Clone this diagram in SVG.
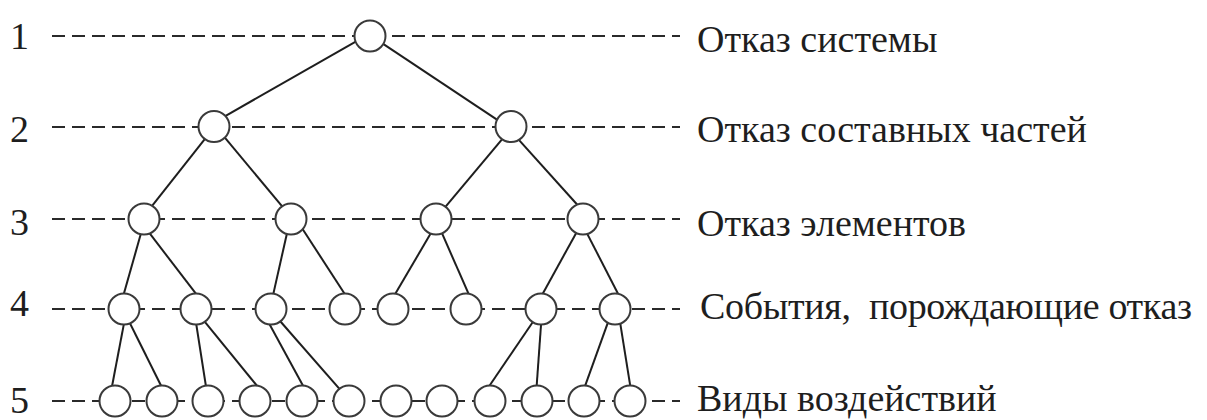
<svg xmlns="http://www.w3.org/2000/svg" width="1207" height="420" viewBox="0 0 1207 420">
<style>
.lvl{stroke:#2a2a2a;stroke-width:2;stroke-dasharray:13 7;fill:none}
.edge{stroke:#1e1e1e;stroke-width:2;fill:none}
.node{fill:#fff;stroke:#3a3a3a;stroke-width:2}
.num,.lab{font-family:"Liberation Serif","Times New Roman",serif;font-size:38px;fill:#1e1e1e}
</style>
<rect width="1207" height="420" fill="#fff"/>
<g id="levels">
<line class="lvl" x1="52" y1="36" x2="680" y2="36"/>
<line class="lvl" x1="52" y1="127" x2="680" y2="127"/>
<line class="lvl" x1="52" y1="219" x2="680" y2="219"/>
<line class="lvl" x1="52" y1="309" x2="680" y2="309"/>
<line class="lvl" x1="52" y1="401" x2="680" y2="401"/>
</g>
<g id="level-numbers">
<text class="num" x="10" y="49">1</text>
<text class="num" x="10" y="142">2</text>
<text class="num" x="10" y="235">3</text>
<text class="num" x="10" y="316">4</text>
<text class="num" x="10" y="413">5</text>
</g>
<g id="level-labels">
<text class="lab" x="697" y="52">Отказ системы</text>
<text class="lab" x="697" y="142">Отказ составных частей</text>
<text class="lab" x="697" y="236">Отказ элементов</text>
<text class="lab" x="700" y="319" xml:space="preserve" textLength="492" lengthAdjust="spacing">События,  порождающие отказ</text>
<text class="lab" x="697" y="411">Виды воздействий</text>
</g>
<g id="connectors">
<line class="edge" x1="358.8" y1="39.8" x2="223.9" y2="116.8"/>
<line class="edge" x1="379" y1="41.1" x2="502.2" y2="123.2"/>
<line class="edge" x1="209.7" y1="132.8" x2="149.7" y2="208.8"/>
<line class="edge" x1="220.9" y1="132.9" x2="285.5" y2="210.4"/>
<line class="edge" x1="504.5" y1="136.3" x2="443.3" y2="209.4"/>
<line class="edge" x1="517.3" y1="138.1" x2="580.7" y2="208.5"/>
<line class="edge" x1="142.9" y1="226.6" x2="121.8" y2="301"/>
<line class="edge" x1="145.3" y1="227.7" x2="200.7" y2="299.9"/>
<line class="edge" x1="288.5" y1="226.5" x2="271.7" y2="301.1"/>
<line class="edge" x1="299.8" y1="224.8" x2="348.8" y2="300.2"/>
<line class="edge" x1="434.3" y1="227.3" x2="391.5" y2="300.3"/>
<line class="edge" x1="439.2" y1="226.9" x2="471.6" y2="300.7"/>
<line class="edge" x1="579.4" y1="227.2" x2="539" y2="300.4"/>
<line class="edge" x1="583.8" y1="227.1" x2="621.5" y2="300.5"/>
<line class="edge" x1="125" y1="318.1" x2="110.3" y2="395.2"/>
<line class="edge" x1="127.7" y1="318.7" x2="164.7" y2="393"/>
<line class="edge" x1="195.3" y1="318.1" x2="207.1" y2="393.6"/>
<line class="edge" x1="201.6" y1="317.9" x2="263.4" y2="393.7"/>
<line class="edge" x1="263.8" y1="313.8" x2="307" y2="393"/>
<line class="edge" x1="275.2" y1="315.5" x2="344.7" y2="394.8"/>
<line class="edge" x1="535.9" y1="317.5" x2="484.9" y2="392.5"/>
<line class="edge" x1="541.5" y1="318" x2="536.1" y2="393.7"/>
<line class="edge" x1="609.4" y1="318.4" x2="582.4" y2="393.3"/>
<line class="edge" x1="619.4" y1="318.1" x2="631.5" y2="393.6"/>
</g>
<g id="n1"><circle class="node" cx="370" cy="36" r="15.5"/></g>
<g id="n2a"><circle class="node" cx="214" cy="126.5" r="15.5"/></g>
<g id="n2b"><circle class="node" cx="511" cy="126.5" r="15.5"/></g>
<g id="n3a"><circle class="node" cx="144" cy="219" r="15.5"/></g>
<g id="n3b"><circle class="node" cx="291" cy="219" r="15.5"/></g>
<g id="n3c"><circle class="node" cx="436" cy="219" r="15.5"/></g>
<g id="n3d"><circle class="node" cx="583" cy="219" r="15.5"/></g>
<g id="n4a"><circle class="node" cx="124" cy="309" r="15.5"/></g>
<g id="n4b"><circle class="node" cx="196" cy="309" r="15.5"/></g>
<g id="n4c"><circle class="node" cx="271" cy="309" r="15.5"/></g>
<g id="n4d"><circle class="node" cx="345" cy="309" r="15.5"/></g>
<g id="n4e"><circle class="node" cx="393" cy="309" r="15.5"/></g>
<g id="n4f"><circle class="node" cx="466" cy="309" r="15.5"/></g>
<g id="n4g"><circle class="node" cx="541" cy="309" r="15.5"/></g>
<g id="n4h"><circle class="node" cx="615" cy="309" r="15.5"/></g>
<g id="n5a"><circle class="node" cx="115" cy="401" r="15.5"/></g>
<g id="n5b"><circle class="node" cx="162" cy="401" r="15.5"/></g>
<g id="n5c"><circle class="node" cx="208" cy="401" r="15.5"/></g>
<g id="n5d"><circle class="node" cx="255" cy="401" r="15.5"/></g>
<g id="n5e"><circle class="node" cx="302" cy="401" r="15.5"/></g>
<g id="n5f"><circle class="node" cx="349" cy="401" r="15.5"/></g>
<g id="n5g"><circle class="node" cx="396" cy="401" r="15.5"/></g>
<g id="n5h"><circle class="node" cx="442" cy="401" r="15.5"/></g>
<g id="n5i"><circle class="node" cx="490" cy="401" r="15.5"/></g>
<g id="n5j"><circle class="node" cx="537" cy="401" r="15.5"/></g>
<g id="n5k"><circle class="node" cx="584" cy="401" r="15.5"/></g>
<g id="n5l"><circle class="node" cx="630" cy="401" r="15.5"/></g>
</svg>
